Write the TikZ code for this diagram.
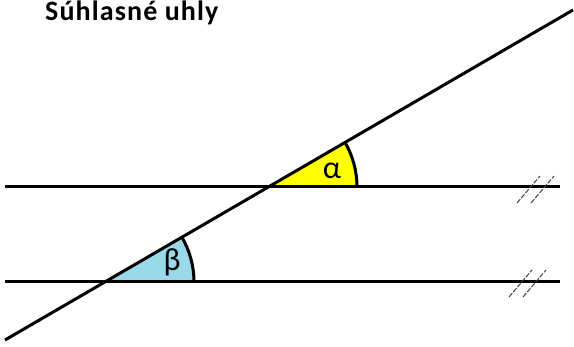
\documentclass[tikz,border=0pt]{standalone}
\usepackage{fontspec}
\setmainfont{Carlito}
\usetikzlibrary{calc}
\tikzset{>=stealth}
\tikzset{
  line/.style={line width=3pt},
  hatch/.style={black!75, line width=1pt, dash pattern=on 5pt off 1.5pt}
}
\definecolor{alphafill}{RGB}{255,255,0}
\definecolor{betafill}{RGB}{153,217,234}

\begin{document}
\begin{tikzpicture}[x=1pt,y=-1pt]
				\useasboundingbox (0,0) rectangle (574,347);
				\coordinate (P1) at (5,187);
				\coordinate (P2) at (560,187);
				\coordinate (Q1) at (5,282);
				\coordinate (Q2) at (560,282);
				\coordinate (T1) at (5,340);
				\coordinate (T2) at (573,10);
				\coordinate (A) at (268,187);
				\coordinate (B) at (105,282);
				% angle sectors
				\fill[alphafill] (A) -- ++(89,0) arc[start angle=0, end angle=-30.16, radius=89] -- cycle;
				\fill[betafill] (B) -- ++(89,0) arc[start angle=0, end angle=-30.16, radius=89] -- cycle;
				% lines
				\draw[line] (P1) -- (P2);
				\draw[line] (Q1) -- (Q2);
				\draw[line] (T1) -- (T2);
				\draw[line] ($(A)+(89,0)$) arc[start angle=0, end angle=-30.16, radius=89];
				\draw[line] ($(B)+(89,0)$) arc[start angle=0, end angle=-30.16, radius=89];
				% parallel marks
				\foreach \dx in {0,14} {
				  \draw[hatch] (517+\dx,203) -- ++(23,-27);
				  \draw[hatch] (509+\dx,297) -- ++(23,-27);
				}
				\node[font=\fontsize{32}{34}\selectfont, inner sep=0] (alpha) at (332,171) {α};
				\node[font=\fontsize{32}{34}\selectfont, inner sep=0] (beta) at (172,262) {β};
				\node[font=\bfseries\fontsize{28}{30}\selectfont\addfontfeatures{LetterSpace=4}, anchor=base west, inner sep=0] (title) at (45,21) {Súhlasné uhly};
			\end{tikzpicture}
\end{document}
